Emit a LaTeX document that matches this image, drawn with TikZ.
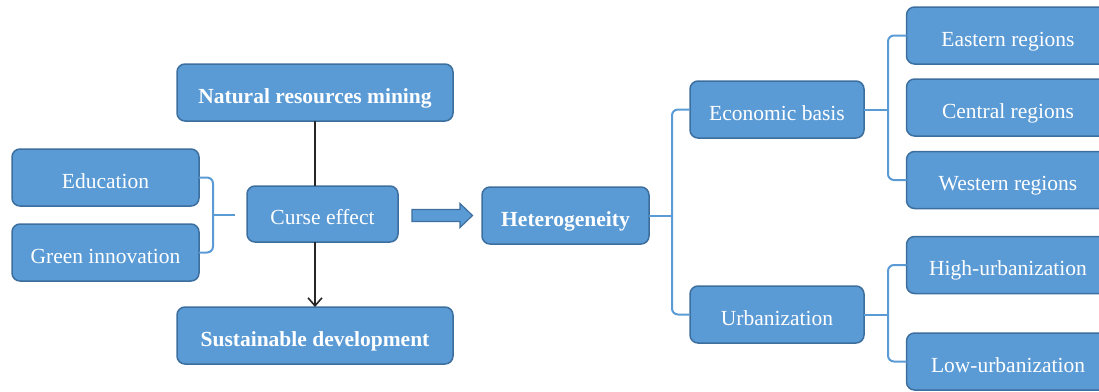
\documentclass[tikz,border=0pt]{standalone}
\usepackage{fontspec}
\setmainfont{Liberation Serif}
\usetikzlibrary{arrows.meta}
\definecolor{boxfill}{HTML}{5B9BD5}
\definecolor{boxline}{HTML}{3C6E9E}
\definecolor{connc}{HTML}{5B9BD5}
\tikzset{
  box/.style={draw=boxline, fill=boxfill, line width=1.5pt, rounded corners=8pt,
    inner sep=0pt, outer sep=0pt, text=white, font=\fontsize{21.5}{24}\selectfont,
    minimum height=57pt, text height=21pt, text depth=0pt},
  boldbox/.style={box, font=\fontsize{21.5}{24}\selectfont\bfseries},
  conn/.style={draw=connc, line width=2pt, rounded corners=6pt},
  flow/.style={draw=black!85, line width=1.6pt},
}
\begin{document}
\begin{tikzpicture}[x=1pt,y=-1pt]
\useasboundingbox (0,0) rectangle (1099,391);
\clip (0,0) rectangle (1099,391);
% left part
\node[boldbox, minimum width=276pt] (nat) at (315,92.5) {Natural resources mining};
\node[box, minimum width=151pt, minimum height=56pt] (curse) at (322.5,214) {Curse effect};
\node[boldbox, minimum width=276pt] (sust) at (315,335.5) {Sustainable development};
\node[box, minimum width=187pt] (edu) at (105.5,177.5) {Education};
\node[box, minimum width=187pt] (gi) at (105.5,252.5) {Green innovation};
% heterogeneity tree
\node[boldbox, minimum width=167pt] (het) at (565.5,215.5) {Heterogeneity};
\node[box, minimum width=174pt] (eco) at (777,109.5) {Economic basis};
\node[box, minimum width=174pt] (urb) at (777,314.5) {Urbanization};
\node[box, minimum width=203pt] (eas) at (1008,35.5) {Eastern regions};
\node[box, minimum width=203pt] (cen) at (1008,107.5) {Central regions};
\node[box, minimum width=203pt] (wes) at (1008,180) {Western regions};
\node[box, minimum width=203pt] (hig) at (1008,265) {High-urbanization};
\node[box, minimum width=203pt] (low) at (1008,361.5) {Low-urbanization};
% vertical flow
\draw[flow] (nat.south) -- (nat.south |- curse.north);
\draw[flow, -{Straight Barb[length=8pt,width=14pt]}] (nat.south |- curse.south) -- (sust.north);
% left brace
\coordinate (lmid) at (213,215);
\coordinate (ltip) at (235,215);
\draw[conn] (edu.east) -| (lmid) |- (gi.east);
\draw[conn] (lmid) -- (ltip);
% block arrow
\draw[draw=boxline, fill=boxfill, line width=1.2pt]
  (412,209.5) -- (460,209.5) -- (460,203.5) -- (472.5,215.5) -- (460,227.5)
  -- (460,221.5) -- (412,221.5) -- cycle;
% right braces
\coordinate (hmid) at (672,215.5);
\coordinate (emid) at (888,109.5);
\coordinate (umid) at (888,314.5);
\draw[conn] (eco.west) -| (hmid) |- (urb.west);
\draw[conn] (het.east) -- (hmid);
\draw[conn] (eas.west) -| (emid) |- (wes.west);
\draw[conn] (eco.east) -- (emid);
\draw[conn] (hig.west) -| (umid) |- (low.west);
\draw[conn] (urb.east) -- (umid);
\end{tikzpicture}
\end{document}
